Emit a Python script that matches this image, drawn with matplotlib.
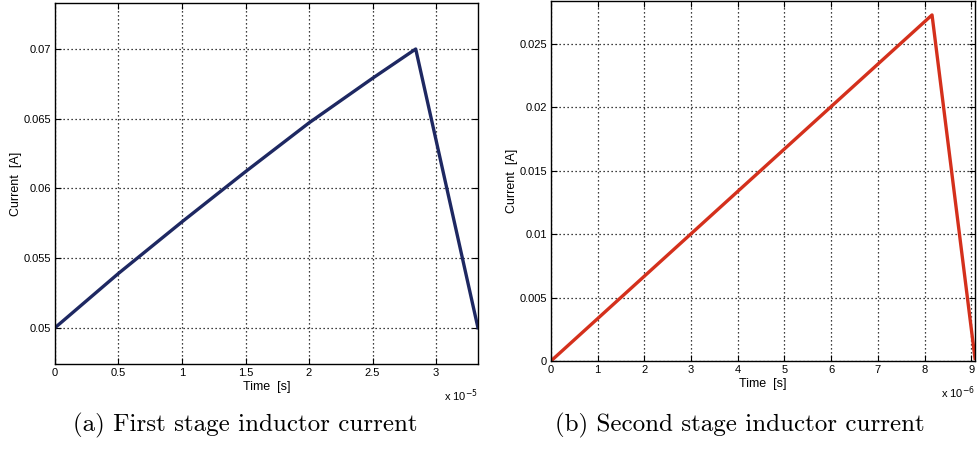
import matplotlib.pyplot as plt

# first stage: time in units of 1e-5 s, current in A
t1 = [0.0, 0.5, 1.0, 1.5, 2.0, 2.5, 2.84, 3.33]
i1 = [0.0500, 0.0539, 0.0576, 0.0612, 0.0647, 0.0679, 0.0700, 0.0500]
# second stage: time in units of 1e-6 s
t2 = [0.0, 8.16, 9.08]
i2 = [0.0, 0.0273, 0.0002]

xt1 = [0, 0.5, 1, 1.5, 2, 2.5, 3]
yt1 = [0.05, 0.055, 0.06, 0.065, 0.07]
xt2 = [0, 1, 2, 3, 4, 5, 6, 7, 8, 9]
yt2 = [0, 0.005, 0.01, 0.015, 0.02, 0.025]

plt.rcParams['font.family'] = ['Liberation Sans', 'DejaVu Sans']

fig = plt.figure(figsize=(9.8, 4.49), dpi=100)
ax1 = fig.add_axes([0.0561, 0.1893, 0.4316, 0.804])
ax2 = fig.add_axes([0.5622, 0.196, 0.4327, 0.8018])


def style(ax, xt, yt, xlim, ylim, exp):
    ax.set_xticks(xt)
    ax.set_yticks(yt)
    ax.set_xticklabels([f'{v:g}' for v in xt])
    ax.set_yticklabels([f'{v:g}' for v in yt])
    ax.set_xlim(xlim)
    ax.set_ylim(ylim)
    ax.grid(True, color='black', linestyle=(0, (1, 2.2)), linewidth=0.9)
    ax.tick_params(direction='in', length=4, width=0.8, labelsize=8,
                   top=True, right=True, pad=3)
    for s in ax.spines.values():
        s.set_linewidth(1.0)
    ax.set_xlabel('Time  [s]', fontsize=9, labelpad=2)
    ax.set_ylabel('Current  [A]', fontsize=9, labelpad=1)
    ax.text(1.0, -0.065, r'x 10$^{%d}$' % exp, transform=ax.transAxes,
            ha='right', va='top', fontsize=8)


ax1.plot(t1, i1, color='#1e2862', linewidth=2.4)
style(ax1, xt1, yt1, (0, 3.33), (0.0474, 0.0733), -5)

ax2.plot(t2, i2, color='#d4301c', linewidth=2.4)
style(ax2, xt2, yt2, (0, 9.08), (0, 0.0284), -6)

fig.text(0.25, 0.052, '(a) First stage inductor current', ha='center',
         va='center', fontsize=18, family='cmr10')
fig.text(0.755, 0.052, '(b) Second stage inductor current', ha='center',
         va='center', fontsize=18, family='cmr10')

fig.savefig('out.png', dpi=100)
